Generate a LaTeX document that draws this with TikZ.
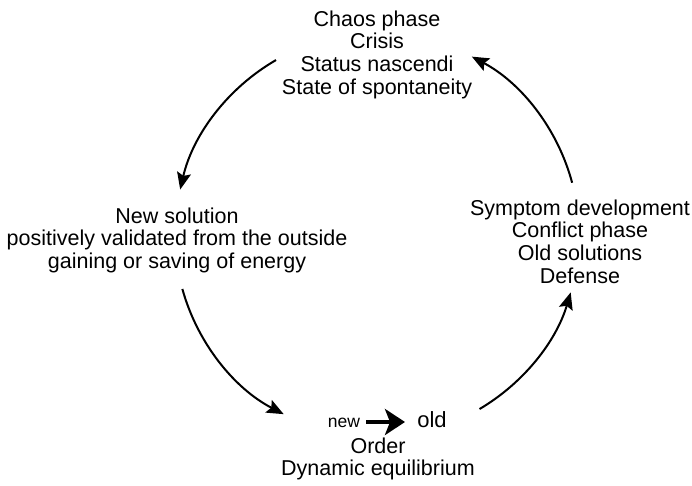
\documentclass[tikz,border=0pt]{standalone}
\usepackage{fontspec}
\setmainfont{Liberation Sans}
\usetikzlibrary{arrows.meta,calc}
\begin{document}
\begin{tikzpicture}[x=1pt,y=1pt,
  txtblock/.style={align=center,inner sep=0pt,anchor=north,
    font=\fontsize{21.5}{22.8}\selectfont},
  cyclearrow/.style={line width=2pt,-{Stealth[length=17pt,width=14pt,inset=3pt]}},
  swaparrow/.style={line width=4pt,-{Stealth[length=20pt 0 0,width=26pt 0 0,inset=5pt 0 0]}}]
\useasboundingbox (0,0) rectangle (692,485);
% centre of the cycle
\coordinate (c) at (377,250);
% text blocks around the cycle
\node[txtblock] (chaos) at (377,475) {\strut Chaos phase\\Crisis\\Status nascendi\\State of spontaneity};
\node[txtblock] (newsol) at (177,278) {\strut New solution\\positively validated from the outside\\gaining or saving of energy};
\node[txtblock] (symptom) at (580,286) {\strut Symptom development\\Conflict phase\\Old solutions\\Defense};
\node[txtblock] (order) at (378,48) {\strut Order\\Dynamic equilibrium};
% new -> old
\node[inner sep=0pt,anchor=base,font=\fontsize{17.5}{20}\selectfont] (new) at (344,58) {new};
\node[inner sep=0pt,anchor=base,font=\fontsize{22}{22.8}\selectfont] (old) at (432,58) {old};
\coordinate (ns) at (366,63);
\coordinate (ne) at (405,63);
\draw[swaparrow] (ns) -- (ne);
% arc end points on the circle
\coordinate (a1) at ($(c)+(120:202)$);
\coordinate (a2) at ($(c)+(195.5:202)$);
\coordinate (a3) at ($(c)+(300.5:202)$);
\coordinate (a4) at ($(c)+(15:202)$);
\draw[cyclearrow] (a1) arc[start angle=120,end angle=167,radius=202];
\draw[cyclearrow] (a2) arc[start angle=195.5,end angle=242.5,radius=202];
\draw[cyclearrow] (a3) arc[start angle=300.5,end angle=343.5,radius=202];
\draw[cyclearrow] (a4) arc[start angle=15,end angle=62,radius=202];
\end{tikzpicture}
\end{document}
